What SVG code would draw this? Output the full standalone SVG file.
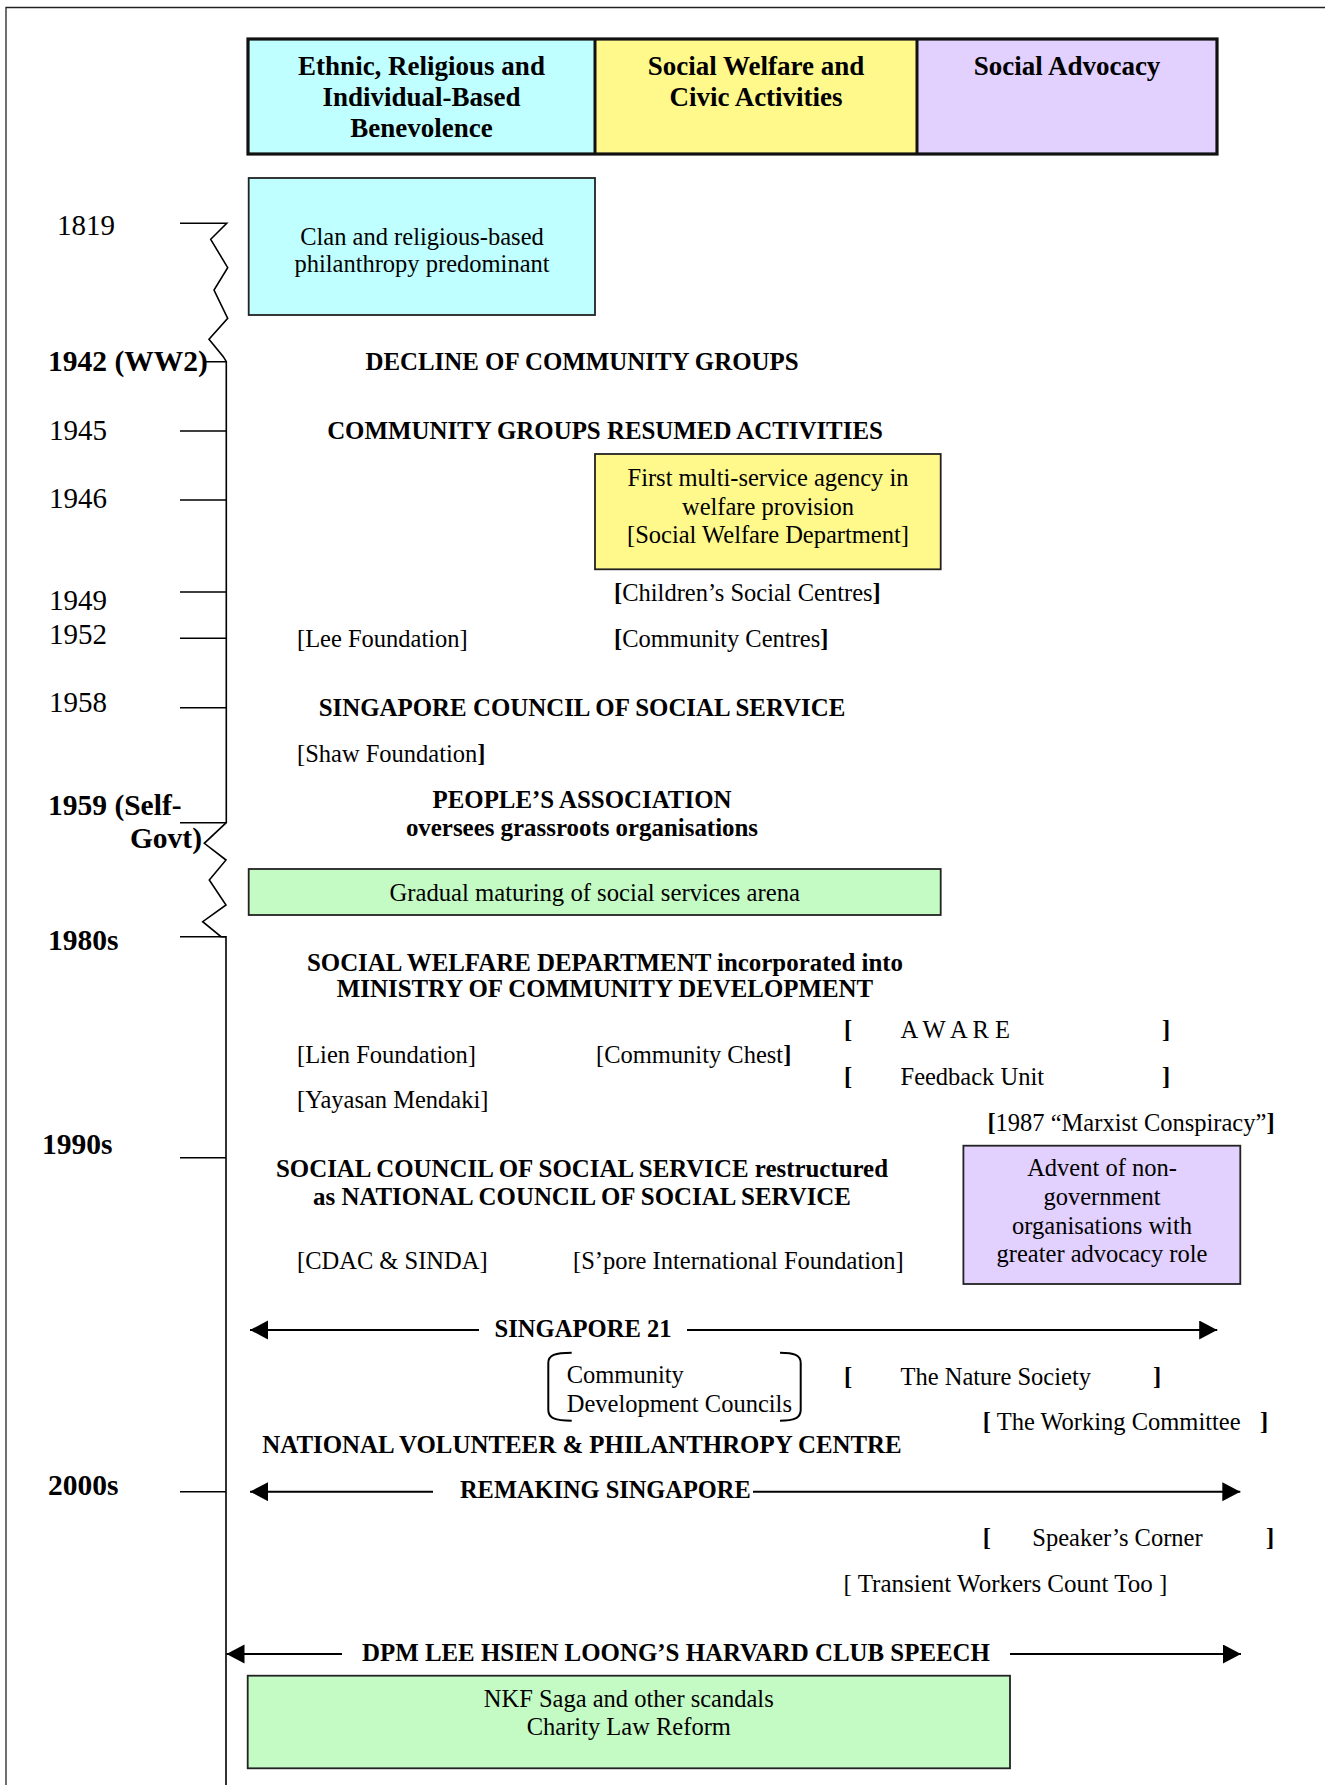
<svg xmlns="http://www.w3.org/2000/svg" width="1325" height="1785" viewBox="0 0 1325 1785">
<style>
text{font-family:"Liberation Serif","Times New Roman",serif;fill:#000}
.h{font-size:27px;font-weight:bold;text-anchor:middle}
.b{font-size:24.9px;font-weight:bold}
.bc{font-size:24.9px;font-weight:bold;text-anchor:middle}
.r{font-size:24.5px}
.rc{font-size:24.5px;text-anchor:middle}
.y{font-size:29px}
.yb{font-size:29.5px;font-weight:bold}
.bk{font-weight:bold}
.box{stroke:#222;stroke-width:1.8}
.ln{fill:none;stroke:#000;stroke-width:1.6}
.ar{fill:none;stroke:#000;stroke-width:2}
</style>
<defs>
<marker id="ah" markerUnits="userSpaceOnUse" markerWidth="20" markerHeight="20" refX="18" refY="9.5" orient="auto-start-reverse" viewBox="0 0 20 20">
<path d="M0,0 L18,9.5 L0,19 z" fill="#000"/>
</marker>
</defs>
<rect width="1325" height="1785" fill="#fff"/>
<path d="M6,1785 V7.5 H1325" fill="none" stroke="#222" stroke-width="1.3"/>

<g id="header">
<rect x="248" y="39" width="347" height="115" fill="#BFFFFF"/>
<rect x="595" y="39" width="322" height="115" fill="#FFF98C"/>
<rect x="917" y="39" width="300" height="115" fill="#E2D0FF"/>
<rect x="248" y="39" width="969" height="115" fill="none" stroke="#111" stroke-width="3.2"/>
<path d="M595,39 V154 M917,39 V154" stroke="#111" stroke-width="3"/>
<text class="h" x="421.5" y="75">Ethnic, Religious and</text>
<text class="h" x="421.5" y="106">Individual-Based</text>
<text class="h" x="421.5" y="137">Benevolence</text>
<text class="h" x="756" y="75">Social Welfare and</text>
<text class="h" x="756" y="106">Civic Activities</text>
<text class="h" x="1067" y="75">Social Advocacy</text>
</g>

<g id="timeline">
<path class="ln" d="M180,223.3 H226.7 L210.7,239.3 L227.7,267.7 L214,290 L227.7,318.3 L209,339.3 L223.3,356.7 L226.3,361.7 V822.7 L204.3,843.3 L226,860 L209.3,880 L226,905 L202.7,921.7 L221,936.7 L226,936.7 V1785"/>
<path class="ln" d="M205,361.7 H226.3 M180,431 H226 M180,500 H226 M180,592 H226 M180,638.3 H226 M180,707.7 H226 M180,822.7 H226 M180,936.7 H226 M180,1157.7 H226 M180,1491.7 H226"/>
<text class="y" x="57" y="235">1819</text>
<text class="yb" x="48" y="371">1942 (WW2)</text>
<text class="y" x="49" y="440">1945</text>
<text class="y" x="49" y="508">1946</text>
<text class="y" x="49" y="610">1949</text>
<text class="y" x="49" y="644">1952</text>
<text class="y" x="49" y="712">1958</text>
<text class="yb" x="48" y="815">1959 (Self-</text>
<text class="yb" x="202" y="848" text-anchor="end">Govt)</text>
<text class="yb" x="48" y="950">1980s</text>
<text class="yb" x="42" y="1154">1990s</text>
<text class="yb" x="48" y="1495">2000s</text>
</g>

<g id="clan">
<rect class="box" x="248.7" y="178" width="346.3" height="137" fill="#BFFFFF"/>
<text class="rc" x="422" y="245">Clan and religious-based</text>
<text class="rc" x="422" y="272">philanthropy predominant</text>
</g>

<g id="events-1942-1958">
<text class="bc" x="582" y="370">DECLINE OF COMMUNITY GROUPS</text>
<text class="bc" x="605" y="439">COMMUNITY GROUPS RESUMED ACTIVITIES</text>
<text class="bc" x="582" y="716">SINGAPORE COUNCIL OF SOCIAL SERVICE</text>
</g>

<g id="swd">
<rect class="box" x="595" y="454" width="345.7" height="115.3" fill="#FFF98C"/>
<text class="rc" x="768" y="486">First multi-service agency in</text>
<text class="rc" x="768" y="515">welfare provision</text>
<text class="rc" x="768" y="543">[Social Welfare Department]</text>
</g>

<g id="orgs-1950s">
<text class="r" x="614" y="601"><tspan class="bk">[</tspan>Children’s Social Centres<tspan class="bk">]</tspan></text>
<text class="r" x="297" y="647">[Lee Foundation]</text>
<text class="r" x="614" y="647"><tspan class="bk">[</tspan>Community Centres<tspan class="bk">]</tspan></text>
<text class="r" x="297" y="762">[Shaw Foundation<tspan class="bk">]</tspan></text>
</g>

<g id="pa">
<text class="bc" x="582" y="808">PEOPLE’S ASSOCIATION</text>
<text class="bc" x="582" y="836">oversees grassroots organisations</text>
</g>

<g id="maturing">
<rect class="box" x="248.7" y="869" width="692" height="46" fill="#C4FAC4"/>
<text class="rc" x="594.7" y="901" style="font-size:24.7px">Gradual maturing of social services arena</text>
</g>

<g id="events-1980s">
<text class="bc" x="605" y="971">SOCIAL WELFARE DEPARTMENT incorporated into</text>
<text class="bc" x="605" y="997">MINISTRY OF COMMUNITY DEVELOPMENT</text>
<text class="r" x="297" y="1063">[Lien Foundation]</text>
<text class="r" x="596" y="1063">[Community Chest<tspan class="bk">]</tspan></text>
<text class="r" x="297" y="1108">[Yayasan Mendaki]</text>
<text class="r bk" x="844" y="1038">[</text>
<text class="r" x="900.5" y="1038">A W A R E</text>
<text class="r bk" x="1162" y="1038">]</text>
<text class="r bk" x="844" y="1085">[</text>
<text class="r" x="900.5" y="1085">Feedback Unit</text>
<text class="r bk" x="1162" y="1085">]</text>
<text class="r" x="987.4" y="1131"><tspan class="bk">[</tspan>1987 “Marxist Conspiracy”<tspan class="bk">]</tspan></text>
</g>

<g id="ngo">
<rect class="box" x="963.4" y="1145.7" width="276.9" height="138.3" fill="#E2D0FF"/>
<text class="rc" x="1102" y="1176">Advent of non-</text>
<text class="rc" x="1102" y="1205">government</text>
<text class="rc" x="1102" y="1234">organisations with</text>
<text class="rc" x="1102" y="1262">greater advocacy role</text>
</g>

<g id="events-1990s">
<text class="bc" x="582" y="1177">SOCIAL COUNCIL OF SOCIAL SERVICE restructured</text>
<text class="bc" x="582" y="1205">as NATIONAL COUNCIL OF SOCIAL SERVICE</text>
<text class="r" x="297" y="1269">[CDAC &amp; SINDA]</text>
<text class="r" x="573" y="1269">[S’pore International Foundation]</text>
</g>

<g id="cdc">
<path class="ar" d="M571.7,1352.7 C555,1352.7 548.3,1355 548.3,1363 V1410 C548.3,1418 555,1420.7 571.7,1420.7"/>
<path class="ar" d="M780,1352.7 C794,1352.7 800.7,1355 800.7,1363 V1410 C800.7,1418 794,1420.7 780,1420.7"/>
<text class="r" x="566.7" y="1383.3">Community</text>
<text class="r" x="566.7" y="1411.7">Development Councils</text>
</g>

<g id="events-2000s">
<text class="b" x="494.6" y="1337" style="font-size:24.6px">SINGAPORE 21</text>
<text class="r bk" x="844" y="1385">[</text>
<text class="r" x="900.5" y="1385">The Nature Society</text>
<text class="r bk" x="1153" y="1385">]</text>
<text class="r bk" x="982.8" y="1430">[</text>
<text class="r" x="996.7" y="1430">The Working Committee</text>
<text class="r bk" x="1260" y="1430">]</text>
<text class="bc" x="582" y="1453">NATIONAL VOLUNTEER &amp; PHILANTHROPY CENTRE</text>
<text class="b" x="460" y="1498" style="font-size:24.4px">REMAKING SINGAPORE</text>
<text class="r bk" x="982.8" y="1546">[</text>
<text class="r" x="1032.3" y="1546">Speaker’s Corner</text>
<text class="r bk" x="1266" y="1546">]</text>
<text class="r" x="843.6" y="1592" style="font-size:25px">[ Transient Workers Count Too ]</text>
<text class="b" x="362" y="1661">DPM LEE HSIEN LOONG’S HARVARD CLUB SPEECH</text>
</g>

<g id="nkf">
<rect class="box" x="247.7" y="1675.7" width="762.3" height="92.6" fill="#C4FAC4"/>
<text class="rc" x="628.8" y="1707">NKF Saga and other scandals</text>
<text class="rc" x="628.8" y="1735">Charity Law Reform</text>
</g>

<g id="connectors">
<line class="ar" x1="479" y1="1330" x2="250" y2="1330" marker-end="url(#ah)"/>
<line class="ar" x1="687" y1="1330" x2="1217.2" y2="1330" marker-end="url(#ah)"/>
<line class="ar" x1="433" y1="1491.7" x2="250" y2="1491.7" marker-end="url(#ah)"/>
<line class="ar" x1="753" y1="1491.7" x2="1240.3" y2="1491.7" marker-end="url(#ah)"/>
<line class="ar" x1="342" y1="1654" x2="226.5" y2="1654" marker-end="url(#ah)"/>
<line class="ar" x1="1010" y1="1654" x2="1241" y2="1654" marker-end="url(#ah)"/>
</g>
</svg>
